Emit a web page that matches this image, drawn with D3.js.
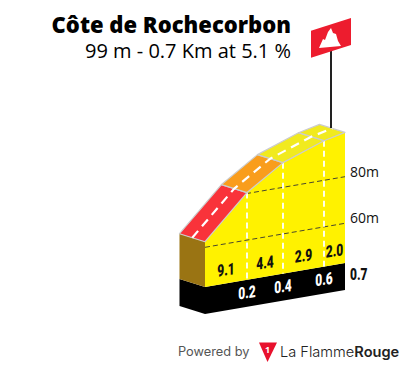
<!DOCTYPE html>
<html><head><meta charset="utf-8">
<script src="https://cdn.jsdelivr.net/npm/d3@7"></script>
<style>html,body{margin:0;padding:0;background:#fff}svg{display:block}</style></head>
<body><svg id="c" width="405" height="368"></svg>
<script>
const title = "Côte de Rochecorbon";
const subtitle = "99 m - 0.7 Km at 5.1 %";
const km = [0, 0.21, 0.39, 0.595, 0.7];
const elevation = [62.4, 80.4, 90.6, 97, 99];
const gradients = [9.1, 4.4, 2.9, 2.0];
const kmLabels = ["0.2", "0.4", "0.6"];
const kmLabelAt = [0.21, 0.39, 0.595];
const totalLabel = "0.7";
const segmentColors = ["#f9333a", "#f99d1c", "#f1ea1f", "#f1ea1f"];
const elevTicks = [60, 80];
const baseElevation = 43;
const plinthElevation = 31.4;

const svg = d3.select("#c");
const x = d3.scaleLinear().domain([0, 0.7]).range([205, 345]);
const y = d3.scaleLinear().domain([60, 80]).range([247.3, 200.7]);
const shear = d3.scaleLinear().domain([0, 0.7]).range([0, -24]);
const depth = d3.scaleLinear().domain([0, 1]).range([[0, 0], [-25.5, -8]]);
const P = (k, e, d = 0) => { const o = depth(d); return [x(k) + o[0], y(e) + shear(k) + o[1]]; };
const line = d3.line();
const poly = pts => line(pts) + "Z";

// base
svg.append("path").attr("fill", "#000").attr("d", poly([P(0, baseElevation), P(0.7, baseElevation), P(0.7, plinthElevation), P(0, plinthElevation)]));
svg.append("path").attr("fill", "#000").attr("d", poly([P(0, baseElevation), P(0, plinthElevation), P(0, plinthElevation, 1), P(0, baseElevation, 1)]));
// brown side
svg.append("path").attr("fill", "#9a7413").attr("d", poly([P(0, elevation[0]), P(0, baseElevation), P(0, baseElevation, 1), P(0, elevation[0], 1)]));
// yellow face
svg.append("path").attr("fill", "#fff200").attr("d", poly([...km.map((k, i) => P(k, elevation[i])), P(0.7, baseElevation), P(0, baseElevation)]));

// elevation lines
elevTicks.forEach(t => {
  const k0 = km.findIndex((k, i) => elevation[i] >= t);
  const start = t <= elevation[0] ? 0 : d3.scaleLinear().domain(elevation.slice(k0 - 1, k0 + 1)).range(km.slice(k0 - 1, k0 + 1))(t);
  svg.append("path").attr("d", line([P(start, t), P(0.7, t)])).attr("stroke", "#333").attr("stroke-width", 0.9).attr("stroke-dasharray", "5 3").attr("fill", "none");
  svg.append("text").attr("x", 350).attr("y", y(t) + shear(0.7) + 0).text(t + "m")
    .attr("font-family", "Open Sans").attr("font-size", 14).attr("fill", "#111");
});
// km lines
kmLabelAt.forEach(k => {
  const i = km.indexOf(k);
  svg.append("path").attr("d", line([P(k, elevation[i]), P(k, baseElevation)])).attr("stroke", "#fff").attr("stroke-width", 1.8).attr("stroke-dasharray", "6 4").attr("fill", "none");
});
// road
gradients.forEach((g, i) => {
  svg.append("path").attr("fill", segmentColors[i]).attr("stroke", "#ccc").attr("stroke-width", 1.2).attr("stroke-linejoin", "round")
    .attr("d", poly([P(km[i], elevation[i]), P(km[i + 1], elevation[i + 1]), P(km[i + 1], elevation[i + 1], 1), P(km[i], elevation[i], 1)]));
});
svg.append("path").attr("fill", "none").attr("stroke", "#fff").attr("stroke-width", 2.2).attr("stroke-dasharray", "9 6")
  .attr("d", line(km.map((k, i) => P(k, elevation[i], 0.5))));

// labels
const labelStyle = s => s.attr("font-family", "Roboto").attr("font-weight", 900).attr("font-size", 15).attr("text-anchor", "middle");
gradients.forEach((g, i) => {
  const kx = (km[i] + km[i + 1]) / 2;
  const px = P(kx, 50);
  const py = [270, 263, 256, 251][i];
  labelStyle(svg.append("text")).attr("transform", `translate(${px[0]},${py}) skewY(-8) scale(0.8,1.12)`).attr("y", 5).attr("fill", "#111").text(g.toFixed(1));
});
kmLabels.forEach((l, i) => {
  const p = P(kmLabelAt[i], baseElevation);
  labelStyle(svg.append("text")).attr("transform", `translate(${p[0]},${p[1] + 13}) skewY(-8) scale(0.8,1.12)`).attr("y", 5).attr("fill", "#fff").text(l);
});
labelStyle(svg.append("text")).attr("transform", "translate(350,280) scale(0.8,1.12)").attr("text-anchor", "start").attr("fill", "#111").text(totalLabel);

// flag
svg.append("line").attr("x1", 331).attr("x2", 331).attr("y1", 50).attr("y2", 128).attr("stroke", "#222").attr("stroke-width", 2);
svg.append("path").attr("fill", "#ed1c2e").attr("d", "M311 30.7L351 18V45L311 57.7Z");
svg.append("path").attr("fill", "#fff").attr("d", "M319 48L323 39L325 40L328 32L331 28L333 33L336 34L338 41L341 46Z");

// title
svg.append("text").attr("x", 291).attr("y", 33).attr("text-anchor", "end").attr("font-family", "Open Sans").attr("font-weight", 800).attr("font-size", 22).attr("fill", "#000").text(title);
svg.append("text").attr("x", 291).attr("y", 58).attr("text-anchor", "end").attr("font-family", "Open Sans").attr("font-size", 20).attr("fill", "#000").text(subtitle);

// footer
svg.append("text").attr("x", 178).attr("y", 356).attr("font-family", "Inter").attr("font-size", 12.8).attr("fill", "#555").text("Powered by");
svg.append("path").attr("fill", "#e8112d").attr("d", "M259 342.5H277L267.5 362Z");
svg.append("text").attr("x", 267.5).attr("y", 353).attr("text-anchor", "middle").attr("font-family", "Open Sans").attr("font-weight", 700).attr("font-size", 9).attr("fill", "#fff").text("1");
const logo = svg.append("text").attr("x", 280).attr("y", 357).attr("font-family", "Inter").attr("font-size", 14.6).attr("fill", "#222");
logo.append("tspan").attr("font-weight", 300).text("La Flamme");
logo.append("tspan").attr("font-weight", 600).text("Rouge");
</script></body></html>
